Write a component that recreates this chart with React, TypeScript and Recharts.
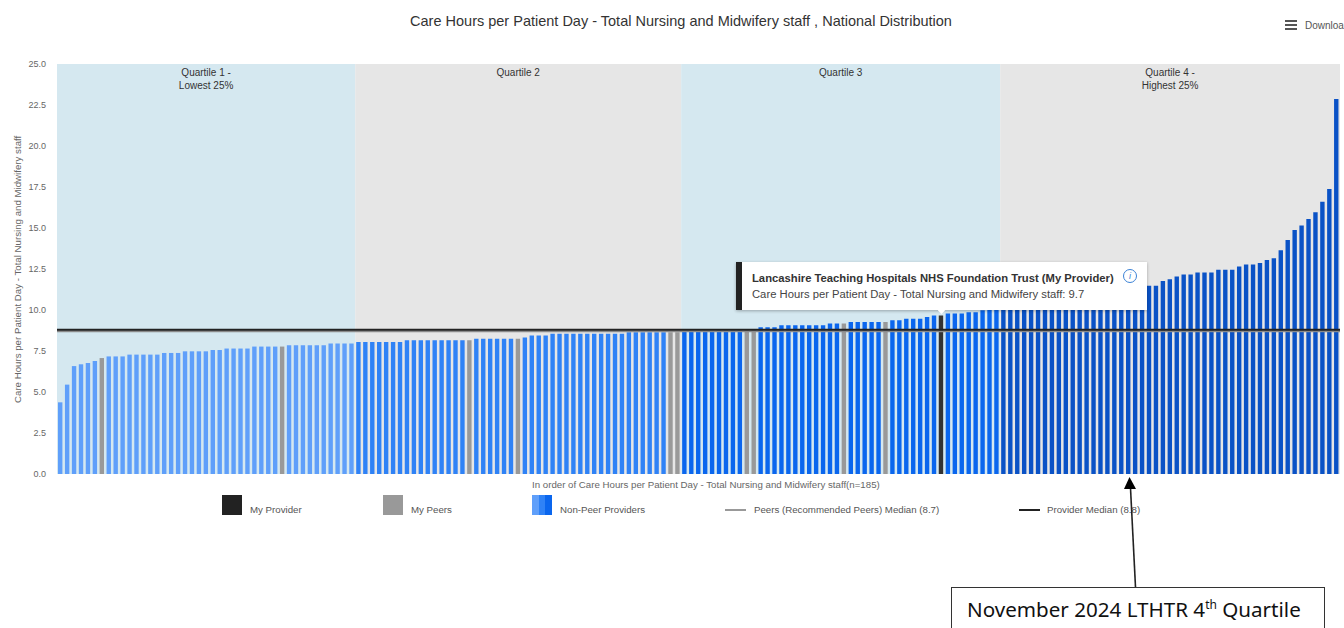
import React from "react";
import {
  BarChart,
  Bar,
  Cell,
  XAxis,
  YAxis,
  Legend,
  Tooltip,
  ReferenceArea,
  ReferenceLine,
} from "recharts";

const FONT = "'Liberation Sans', Arial, sans-serif";

const careHours = [
  4.37, 5.45, 6.58, 6.69, 6.77, 6.89, 7.07, 7.17, 7.17, 7.17,
  7.28, 7.28, 7.28, 7.28, 7.28, 7.38, 7.38, 7.38, 7.48, 7.48,
  7.48, 7.48, 7.56, 7.56, 7.65, 7.65, 7.65, 7.65, 7.77, 7.77,
  7.77, 7.77, 7.77, 7.85, 7.85, 7.85, 7.85, 7.85, 7.85, 7.95,
  7.95, 7.95, 7.95, 8.05, 8.05, 8.05, 8.05, 8.05, 8.05, 8.05,
  8.15, 8.15, 8.15, 8.15, 8.15, 8.15, 8.15, 8.15, 8.15, 8.15,
  8.25, 8.25, 8.25, 8.25, 8.25, 8.25, 8.25, 8.33, 8.45, 8.45,
  8.45, 8.55, 8.55, 8.55, 8.55, 8.55, 8.55, 8.55, 8.55, 8.55,
  8.55, 8.55, 8.65, 8.65, 8.65, 8.65, 8.65, 8.65, 8.65, 8.65,
  8.7, 8.7, 8.72, 8.72, 8.72, 8.75, 8.75, 8.75, 8.75, 8.78,
  8.8, 8.95, 8.95, 8.95, 9.07, 9.07, 9.07, 9.07, 9.07, 9.07,
  9.07, 9.17, 9.17, 9.17, 9.27, 9.27, 9.27, 9.27, 9.27, 9.27,
  9.37, 9.37, 9.47, 9.47, 9.47, 9.57, 9.67, 9.67, 9.78, 9.78,
  9.78, 9.86, 9.86, 9.98, 10.0, 10.0, 10.05, 10.05, 10.1, 10.1,
  10.15, 10.2, 10.25, 10.3, 10.35, 10.4, 10.5, 10.55, 10.6, 10.7,
  10.8, 10.9, 11.0, 11.1, 11.2, 11.3, 11.4, 11.48, 11.48, 11.77,
  11.87, 12.05, 12.17, 12.17, 12.28, 12.28, 12.28, 12.46, 12.46, 12.46,
  12.66, 12.77, 12.77, 12.87, 13.05, 13.15, 13.64, 14.27, 14.88, 15.16,
  15.55, 15.96, 16.6, 17.38, 22.87,
];

const peerIndexes = [6, 32, 59, 66, 88, 89, 99, 100, 113, 119];
const myProviderIndex = 127;
const yTicks = [0, 2.5, 5, 7.5, 10, 12.5, 15, 17.5, 20, 22.5, 25];

const quartileNames = [
  ["Quartile 1 -", "Lowest 25%"],
  ["Quartile 2"],
  ["Quartile 3"],
  ["Quartile 4 -", "Highest 25%"],
];
const quartileFirstIndex = [0, 43, 90, 136];
const quartileLastIndex = [42, 89, 135, 184];
const quartileBackgrounds = ["#d5e8f0", "#e6e6e6", "#d5e8f0", "#e6e6e6"];
const quartileBarColors = ["#5f9ffa", "#2f82f6", "#0a66ee", "#0a52c6"];

const peersMedian = 8.7;
const providerMedian = 8.8;

const chartData = careHours.map((value, i) => ({ rank: i + 1, value }));

const barColor = (i: number) => {
  if (i === myProviderIndex) return "#333333";
  if (peerIndexes.includes(i)) return "#999999";
  const q = quartileLastIndex.findIndex((last) => i <= last);
  return quartileBarColors[q];
};

const QuartileLabel = ({ viewBox, lines }: any) => (
  <text x={viewBox.x + viewBox.width / 2} y={viewBox.y + 12} textAnchor="middle" fontSize={10} fill="#333" fontFamily={FONT}>
    {lines.map((line: string, i: number) => (
      <tspan key={line} x={viewBox.x + viewBox.width / 2} dy={i === 0 ? 0 : 12.5}>
        {line}
      </tspan>
    ))}
  </text>
);

const ProviderTooltip = () => (
  <div
    style={{
      width: 405,
      height: 48,
      background: "#fff",
      borderLeft: "6px solid #222",
      boxShadow: "0 1px 3px rgba(0,0,0,0.3)",
      fontFamily: FONT,
      fontSize: 11.25,
      color: "#444",
      position: "relative",
    }}
  >
    <div style={{ position: "absolute", left: 10, top: 10, fontWeight: "bold", color: "#333", whiteSpace: "nowrap" }}>
      Lancashire Teaching Hospitals NHS Foundation Trust (My Provider)
    </div>
    <div style={{ position: "absolute", left: 10, top: 26, whiteSpace: "nowrap" }}>
      Care Hours per Patient Day - Total Nursing and Midwifery staff: 9.7
    </div>
    <div
      style={{
        position: "absolute",
        left: 381,
        top: 7,
        width: 12,
        height: 12,
        borderRadius: "50%",
        border: "1px solid #3b82d6",
        color: "#3b82d6",
        fontSize: 9,
        lineHeight: "12px",
        textAlign: "center",
        fontStyle: "italic",
      }}
    >
      i
    </div>
    <div
      style={{
        position: "absolute",
        left: 197,
        top: 46,
        width: 5,
        height: 5,
        background: "#fff",
        transform: "rotate(45deg)",
      }}
    />
  </div>
);

const legendTextStyle: React.CSSProperties = {
  position: "absolute",
  top: 9,
  fontSize: 9.7,
  color: "#555",
  fontFamily: FONT,
  whiteSpace: "nowrap",
};

const swatch = (left: number, background: string): React.CSSProperties => ({
  position: "absolute",
  left,
  top: 0,
  width: 20,
  height: 20,
  background,
});

const lineKey = (left: number, background: string): React.CSSProperties => ({
  position: "absolute",
  left,
  top: 14,
  width: 21,
  height: 2,
  background,
});

const ChartLegend = () => (
  <div style={{ position: "relative", width: 1344, height: 22 }}>
    <div style={swatch(222, "#222222")} />
    <span style={{ ...legendTextStyle, left: 250 }}>My Provider</span>
    <div style={swatch(383, "#999999")} />
    <span style={{ ...legendTextStyle, left: 411 }}>My Peers</span>
    <div style={swatch(532, `linear-gradient(90deg, ${quartileBarColors[0]} 0 33%, ${quartileBarColors[1]} 33% 66%, ${quartileBarColors[2]} 66% 100%)`)} />
    <span style={{ ...legendTextStyle, left: 560 }}>Non-Peer Providers</span>
    <div style={lineKey(725, "#999999")} />
    <span style={{ ...legendTextStyle, left: 754 }}>Peers (Recommended Peers) Median (8.7)</span>
    <div style={lineKey(1019, "#222222")} />
    <span style={{ ...legendTextStyle, left: 1047 }}>Provider Median (8.8)</span>
  </div>
);

export default function App() {
  return (
    <div style={{ position: "absolute", left: 0, top: 0, width: 1344, height: 628, overflow: "hidden", background: "#fff" }}>
      <BarChart
        width={1344}
        height={628}
        data={chartData}
        margin={{ top: 64, right: 4, bottom: 132, left: 0 }}
        barSize={4.4}
        style={{ fontFamily: FONT }}
      >
        <XAxis dataKey="rank" hide />
        <YAxis
          width={57}
          domain={[0, 25]}
          ticks={yTicks}
          interval={0}
          axisLine={false}
          tickLine={false}
          tickMargin={5}
          tick={{ fontSize: 9, fill: "#666" }}
          tickFormatter={(v: number) => v.toFixed(1)}
          label={{
            value: "Care Hours per Patient Day - Total Nursing and Midwifery staff",
            angle: -90,
            position: "insideLeft",
            fontSize: 9.7,
            fill: "#666",
            dx: 13,
            dy: 134,
          }}
        />
        {quartileNames.map((lines, q) => (
          <ReferenceArea
            key={q}
            x1={quartileFirstIndex[q] + 1}
            x2={quartileLastIndex[q] + 1}
            y1={0}
            y2={25}
            fill={quartileBackgrounds[q]}
            fillOpacity={1}
            stroke="none"
            label={<QuartileLabel lines={lines} />}
          />
        ))}
        <Bar dataKey="value" isAnimationActive={false}>
          {chartData.map((_, i) => (
            <Cell key={i} fill={barColor(i)} />
          ))}
        </Bar>
        <ReferenceLine y={peersMedian} stroke="#8a8a8a" strokeWidth={2} />
        <ReferenceLine y={providerMedian} stroke="#222" strokeWidth={2} />
        <Legend
          content={<ChartLegend />}
          wrapperStyle={{ position: "absolute", left: 0, top: 495, width: 1344 }}
        />
        <Tooltip
          active
          defaultIndex={myProviderIndex}
          position={{ x: 736, y: 262 }}
          content={<ProviderTooltip />}
          cursor={false}
          isAnimationActive={false}
          offset={0}
          wrapperStyle={{ zIndex: 5 }}
        />
      </BarChart>

      <div style={{ position: "absolute", left: 0, top: 13, width: 1362, textAlign: "center", fontFamily: FONT, fontSize: 14.5, color: "#333" }}>
        Care Hours per Patient Day - Total Nursing and Midwifery staff , National Distribution
      </div>
      <div style={{ position: "absolute", left: 532, top: 479, fontFamily: FONT, fontSize: 9.7, color: "#666", whiteSpace: "nowrap" }}>
        In order of Care Hours per Patient Day - Total Nursing and Midwifery staff(n=185)
      </div>

      {/* export menu, cut off by the right edge in the original */}
      <div style={{ position: "absolute", left: 1285, top: 20, width: 12, height: 10, borderTop: "2px solid #555", borderBottom: "2px solid #555", boxSizing: "border-box" }} />
      <div style={{ position: "absolute", left: 1285, top: 24, width: 12, height: 2, background: "#555" }} />
      <div style={{ position: "absolute", left: 1305, top: 20, fontFamily: FONT, fontSize: 10, color: "#555", whiteSpace: "nowrap" }}>Download</div>

      {/* hand drawn callout on top of the screenshot */}
      <svg width={1344} height={628} style={{ position: "absolute", left: 0, top: 0, pointerEvents: "none" }}>
        <line x1={1135.5} y1={587} x2={1130.5} y2={488} stroke="#222" strokeWidth={1.6} />
        <polygon points="1129.5,477 1124,489 1136,489" fill="#000" />
      </svg>
      <div
        style={{
          position: "absolute",
          left: 951,
          top: 587,
          width: 374,
          height: 60,
          border: "1.5px solid #333",
          boxSizing: "border-box",
          background: "#fff",
          fontFamily: "'Noto Sans', sans-serif",
          fontSize: 20.6,
          color: "#111",
          paddingLeft: 15,
          paddingTop: 7,
          whiteSpace: "nowrap",
        }}
      >
        November 2024 LTHTR 4<sup style={{ fontSize: 12, lineHeight: 0 }}>th</sup> Quartile
      </div>
    </div>
  );
}
